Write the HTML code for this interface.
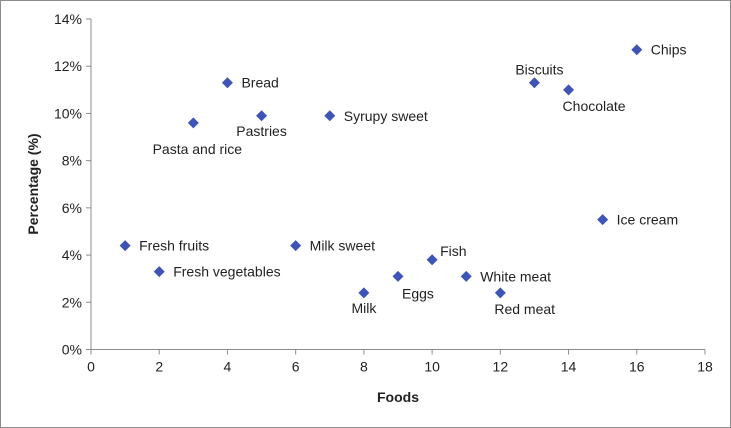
<!DOCTYPE html>
<html><head><meta charset="utf-8">
<style>
html,body{margin:0;padding:0;background:#fff;}
svg{display:block;font-family:"Liberation Sans",sans-serif;}
</style></head>
<body>
<svg id="chart" width="731" height="428" viewBox="0 0 731 428" xmlns="http://www.w3.org/2000/svg">
<rect x="0.5" y="0.5" width="730" height="427" fill="#fff" stroke="#8c8c8c"/>
<g id="axes"></g>
<g id="marks"></g>
<text x="398" y="402" font-size="14" font-weight="bold" text-anchor="middle" fill="#222">Foods</text>
<text transform="translate(38,184) rotate(-90)" font-size="14" font-weight="bold" text-anchor="middle" fill="#222">Percentage  (%)</text>
</svg>
<script>
const foods = ["Fresh fruits","Fresh vegetables","Pasta and rice","Bread","Pastries","Milk sweet","Syrupy sweet","Milk","Eggs","Fish","White meat","Red meat","Biscuits","Chocolate","Ice cream","Chips"];
const xValues = [1,2,3,4,5,6,7,8,9,10,11,12,13,14,15,16];
const yValues = [4.4,3.3,9.6,11.3,9.9,4.4,9.9,2.4,3.1,3.8,3.1,2.4,11.3,11.0,5.5,12.7];
const labelPlacement = ["right","right","below2","right","below","right","right","below","eggs","fish","right","belowright","above","belowright","right","right"];
const xTicks = [0,2,4,6,8,10,12,14,16,18];
const yTicks = [0,2,4,6,8,10,12,14];

const NS="http://www.w3.org/2000/svg";
const X0=91, X1=705, Y0=349.5, Y1=19;
function sx(v){return X0+(X1-X0)*v/18;}
function sy(v){return Y0-(Y0-Y1)*v/14;}
function mk(tag,attrs,parent){const e=document.createElementNS(NS,tag);for(const k in attrs)e.setAttribute(k,attrs[k]);parent.appendChild(e);return e;}
const axes=document.getElementById('axes'), marks=document.getElementById('marks');
let l=mk('line',{x1:X0,y1:Y0,x2:X1,y2:Y0,stroke:'#8c8c8c'},axes);


l=mk('line',{x1:X0,y1:Y0,x2:X0,y2:Y1,stroke:'#8c8c8c'},axes);


xTicks.forEach(t=>{
  mk('line',{x1:sx(t),y1:Y0,x2:sx(t),y2:Y0+5,stroke:'#8c8c8c'},axes);
  const tx=mk('text',{x:sx(t),y:Y0+22,'font-size':14,'text-anchor':'middle',fill:'#222'},axes);
  tx.textContent=t;
  
  
});
yTicks.forEach(t=>{
  mk('line',{x1:X0-5,y1:sy(t),x2:X0,y2:sy(t),stroke:'#8c8c8c'},axes);
  const tx=mk('text',{x:X0-9,y:sy(t)+5,'font-size':14,'text-anchor':'end',fill:'#222'},axes);
  tx.textContent=t+'%';
  
  
});
foods.forEach((f,i)=>{
  const cx=sx(xValues[i]), cy=sy(yValues[i]);
  const d=mk('path',{d:`M${cx} ${cy-5.5}L${cx+5.5} ${cy}L${cx} ${cy+5.5}L${cx-5.5} ${cy}Z`,fill:'#3f55b5'},marks);
  
  
  let x=cx+14,y=cy+5,a='start';
  const p=labelPlacement[i];
  if(p==='below'){x=cx;y=cy+20;a='middle';}
  else if(p==='below2'){x=cx+4;y=cy+31;a='middle';}
  else if(p==='belowright'){x=cx-6;y=cy+21;}
  else if(p==='eggs'){x=cx+4;y=cy+22;}
  else if(p==='fish'){x=cx+8;y=cy-4;}
  else if(p==='above'){x=cx+5;y=cy-8;a='middle';}
  const t=mk('text',{x:x,y:y,'font-size':14,'text-anchor':a,fill:'#222'},marks);
  t.textContent=f;
  
  
});
</script>
</body></html>
